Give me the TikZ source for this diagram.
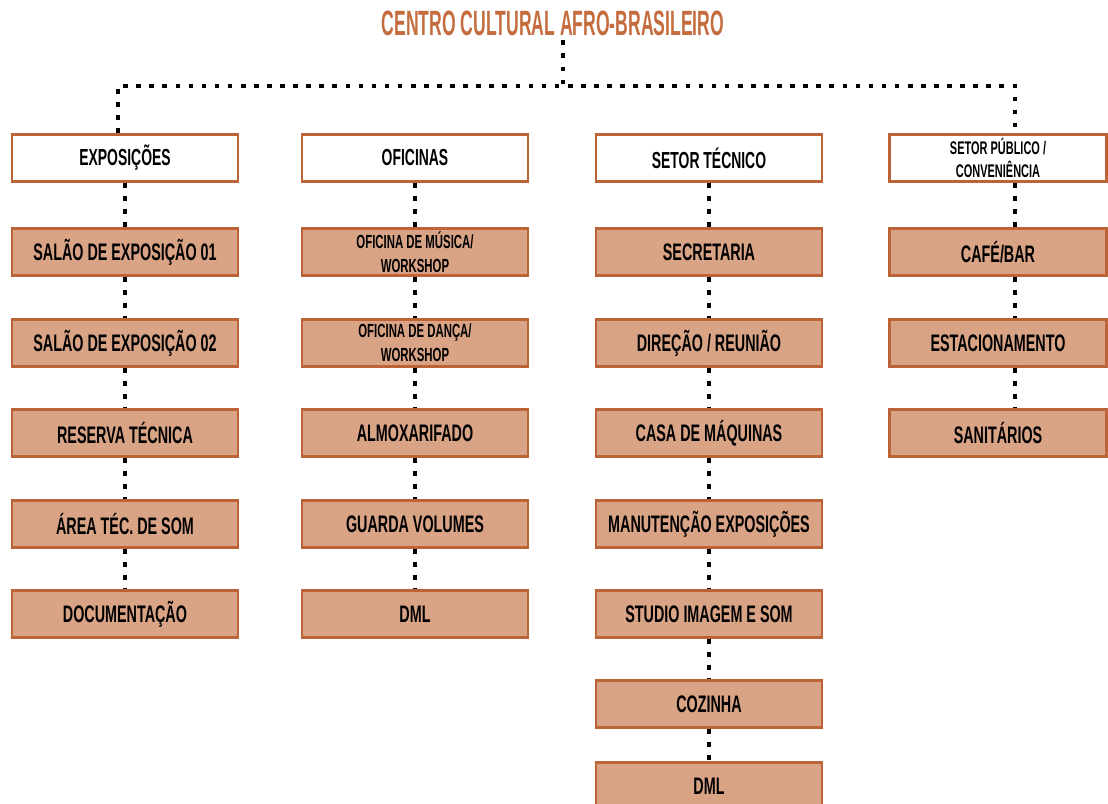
\documentclass[tikz,border=0pt]{standalone}
\usepackage{fontspec}
\setmainfont{Liberation Sans}[FakeStretch=0.6]
\newfontfamily\titulofonte{Liberation Sans}[FakeStretch=0.5]
\usetikzlibrary{positioning}
\usepackage{xcolor}
\definecolor{cborda}{RGB}{188,100,55}
\definecolor{cfundo}{RGB}{217,163,133}
\definecolor{ctitulo}{RGB}{196,108,62}
\tikzset{
  setor/.style={draw=cborda,line width=2pt,fill=white,minimum width=5.65cm,minimum height=1.175cm,
    inner sep=0pt,align=center,font=\bfseries\fontsize{16.5}{18}\selectfont},
  sala/.style={setor,fill=cfundo,font=\bfseries\fontsize{17}{19}\selectfont},
  salapeq/.style={sala,font=\bfseries\fontsize{13.5}{17}\selectfont},
  pontos/.style={line width=3.3pt,dash pattern=on 3.3pt off 6pt}
}

\begin{document}
\begin{tikzpicture}[x=0.025cm,y=-0.025cm]
  \useasboundingbox (0,0) rectangle (1108,803);
  % titulo
  \node[text=ctitulo,font=\titulofonte\bfseries\fontsize{25}{27}\selectfont] (titulo) at (553,23) {CENTRO CULTURAL AFRO-BRASILEIRO};
  \coordinate (barra) at (563,86);
  % cabecalhos
  \node[setor] (expo) at (125,158) {EXPOSIÇÕES};
  \node[setor] (ofic) at (415,158) {OFICINAS};
  \node[setor] (tecn) at (709,158) {SETOR TÉCNICO};
  \node[setor,minimum width=5.425cm,font=\bfseries\fontsize{13}{17}\selectfont] (publ) at (998,158) {SETOR PÚBLICO /\\CONVENIÊNCIA};
  % exposicoes
  \node[sala] (sal1) at (125,252) {SALÃO DE EXPOSIÇÃO 01};
  \node[sala] (sal2) at (125,343) {SALÃO DE EXPOSIÇÃO 02};
  \node[sala] (rese) at (125,433) {RESERVA TÉCNICA};
  \node[sala] (area) at (125,524) {ÁREA TÉC. DE SOM};
  \node[sala] (docu) at (125,614) {DOCUMENTAÇÃO};
  % oficinas
  \node[salapeq] (musi) at (415,252) {OFICINA DE MÚSICA/\\WORKSHOP};
  \node[salapeq] (danc) at (415,343) {OFICINA DE DANÇA/\\WORKSHOP};
  \node[sala] (almo) at (415,433) {ALMOXARIFADO};
  \node[sala] (guar) at (415,524) {GUARDA VOLUMES};
  \node[sala] (dml1) at (415,614) {DML};
  % setor tecnico
  \node[sala] (secr) at (709,252) {SECRETARIA};
  \node[sala] (dire) at (709,343) {DIREÇÃO / REUNIÃO};
  \node[sala] (casa) at (709,433) {CASA DE MÁQUINAS};
  \node[sala] (manu) at (709,524) {MANUTENÇÃO EXPOSIÇÕES};
  \node[sala] (stud) at (709,614) {STUDIO IMAGEM E SOM};
  \node[sala] (cozi) at (709,704) {COZINHA};
  \node[sala] (dml2) at (709,786) {DML};
  % setor publico
  \node[sala,minimum width=5.425cm] (cafe) at (998,252) {CAFÉ/BAR};
  \node[sala,minimum width=5.425cm] (esta) at (998,343) {ESTACIONAMENTO};
  \node[sala,minimum width=5.425cm] (sani) at (998,433) {SANITÁRIOS};
  % ligacoes
  \draw[pontos] (titulo.south -| barra) -- (barra);
  \draw[pontos] ([xshift=-0.175cm]expo.north) |- (barra) -| ([xshift=0.425cm]publ.north);
  \draw[pontos] (expo) -- (sal1);
  \draw[pontos] (sal1) -- (sal2);
  \draw[pontos] (sal2) -- (rese);
  \draw[pontos] (rese) -- (area);
  \draw[pontos] (area) -- (docu);
  \draw[pontos] (ofic) -- (musi);
  \draw[pontos] (musi) -- (danc);
  \draw[pontos] (danc) -- (almo);
  \draw[pontos] (almo) -- (guar);
  \draw[pontos] (guar) -- (dml1);
  \draw[pontos] (tecn) -- (secr);
  \draw[pontos] (secr) -- (dire);
  \draw[pontos] (dire) -- (casa);
  \draw[pontos] (casa) -- (manu);
  \draw[pontos] (manu) -- (stud);
  \draw[pontos] (stud) -- (cozi);
  \draw[pontos] (cozi) -- (dml2);
  \draw[pontos] ([xshift=0.425cm]publ.south) -- ([xshift=0.425cm]cafe.north);
  \draw[pontos] ([xshift=0.425cm]cafe.south) -- ([xshift=0.425cm]esta.north);
  \draw[pontos] ([xshift=0.425cm]esta.south) -- ([xshift=0.425cm]sani.north);
\end{tikzpicture}
\end{document}
